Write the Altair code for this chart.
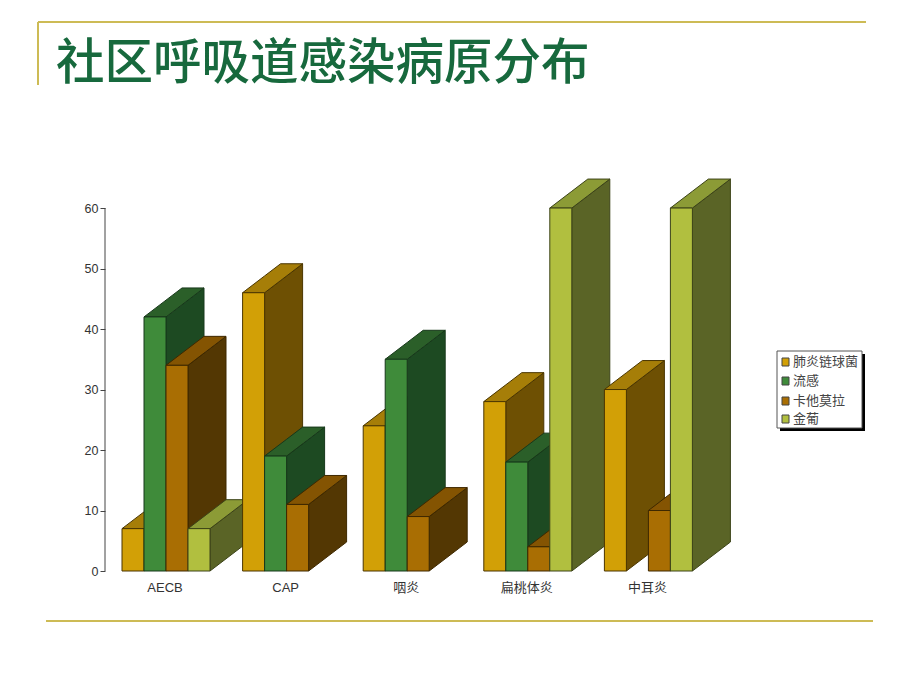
import altair as alt
import pandas as pd

TITLE = "社区呼吸道感染病原分布"
categories = ["AECB", "CAP", "咽炎", "扁桃体炎", "中耳炎"]
series = ["肺炎链球菌", "流感", "卡他莫拉", "金葡"]
v_strep = [7, 46, 24, 28, 30]
v_flu = [42, 19, 35, 18, None]
v_morax = [34, 11, 9, 4, 10]
v_staph = [7, None, None, 60, 60]
values = [v_strep, v_flu, v_morax, v_staph]
front = ["#D2A006", "#3F8B3A", "#A96E03", "#B1BF3F"]
top = ["#A67E08", "#2B5F29", "#845402", "#8C9B36"]
side = ["#6E5003", "#1D4A22", "#533703", "#5A6426"]
edge = ["#4A3500", "#17381A", "#3E2800", "#3C4318"]

PW, PH = 625, 392
Y_MAX = 64.8
STEP = 120.6
BAR = 22
X0 = 17
DX = 38
DZ = 4.79

X = alt.X("x:Q", scale=alt.Scale(domain=[0, PW], range=[0, PW], nice=False, zero=False), axis=None)
Y = alt.Y("y:Q", title=None, scale=alt.Scale(domain=[0, Y_MAX], nice=False),
          axis=alt.Axis(values=[0, 10, 20, 30, 40, 50, 60], domain=False, grid=False, tickSize=5,
                        tickColor="#444444", labelColor="#333333", labelFont="Liberation Sans",
                        labelFontSize=12.5, labelPadding=2, tickWidth=1))
one = pd.DataFrame({"a": [0]})
layers = []

# y axis (its line stops at 60, below the headroom taken by the depth of the bars)
layers.append(alt.Chart(pd.DataFrame({"x": [0], "y": [0], "y2": [60]})).mark_rule(color="#444444", strokeWidth=1)
              .encode(x=X, y=Y, y2="y2:Q"))

for g in range(len(categories)):
    for s in range(len(series)):
        v = values[s][g]
        if v is None:
            continue
        l = X0 + g * STEP + s * BAR
        r = l + BAR
        side_df = pd.DataFrame({"x": [r, r + DX], "y": [0, DZ], "y2": [v, v + DZ]})
        f = BAR / DX
        top_df = pd.DataFrame({
            "x": [l, r, l + DX, r + DX],
            "y": [v, v, v + DZ * (1 - f), v + DZ],
            "y2": [v, v + DZ * f, v + DZ, v + DZ],
        })
        front_df = pd.DataFrame({"x": [l], "x2": [r], "y": [0], "y2": [v]})
        layers.append(alt.Chart(side_df).mark_area(color=side[s], stroke=edge[s], strokeWidth=1, opacity=1)
                      .encode(x=X, y=Y, y2="y2:Q"))
        layers.append(alt.Chart(top_df).mark_area(color=top[s], stroke=edge[s], strokeWidth=1, opacity=1)
                      .encode(x=X, y=Y, y2="y2:Q"))
        layers.append(alt.Chart(front_df).mark_rect(color=front[s], stroke=edge[s], strokeWidth=1, opacity=1)
                      .encode(x=X, x2="x2:Q", y=Y, y2="y2:Q"))

# category labels
cat_df = pd.DataFrame({"x": [X0 + g * STEP + 2 * BAR - 1 for g in range(len(categories))], "label": categories})
layers.append(alt.Chart(cat_df).mark_text(font="Liberation Sans, Noto Sans CJK SC", fontSize=13, color="#333333")
              .encode(x=X, y=alt.value(PH + 17), text="label:N"))

# title
layers.append(alt.Chart(one).mark_text(text=TITLE, font="Noto Sans CJK SC", fontSize=48.5, fontWeight=500,
                                       color="#17693D", align="left", baseline="middle")
              .encode(x=alt.value(56 - 105), y=alt.value(64 - 179)))

# frame lines
GOLD = "#CDBB55"
def rule_h(x1, x2, y):
    return alt.Chart(one).mark_rule(color=GOLD, strokeWidth=2).encode(
        x=alt.value(x1 - 105), x2=alt.value(x2 - 105), y=alt.value(y - 179))
layers.append(rule_h(38, 866, 22))
layers.append(rule_h(46, 873, 621))
layers.append(alt.Chart(one).mark_rule(color=GOLD, strokeWidth=2).encode(
    x=alt.value(38 - 105), y=alt.value(22 - 179), y2=alt.value(85 - 179)))

# legend
def box(x1, x2, y1, y2, **kw):
    return alt.Chart(one).mark_rect(**kw).encode(
        x=alt.value(x1 - 105), x2=alt.value(x2 - 105), y=alt.value(y1 - 179), y2=alt.value(y2 - 179))
layers.append(box(780, 865, 354, 431, color="#000000"))
layers.append(box(777, 862, 351, 428, color="#FFFFFF", stroke="#555555", strokeWidth=1))
legend_y = [362, 381, 401, 419]
for s, name in enumerate(series):
    yy = legend_y[s]
    layers.append(box(782, 789, yy - 4, yy + 4, color=front[s], stroke="#444444", strokeWidth=1))
    layers.append(alt.Chart(one).mark_text(text=name, font="Noto Sans CJK SC", fontSize=13, color="#444444",
                                           align="left", baseline="middle")
                  .encode(x=alt.value(793 - 105), y=alt.value(yy - 179)))

chart = alt.layer(*layers).properties(
    width=PW, height=PH,
    padding={"left": 97, "top": 171, "right": 182, "bottom": 111},
    autosize=alt.AutoSizeParams(type="none"),
    background="#FFFFFF",
).configure_view(stroke=None)

chart.save("out.html", embed_options={"renderer": "svg", "actions": False})
